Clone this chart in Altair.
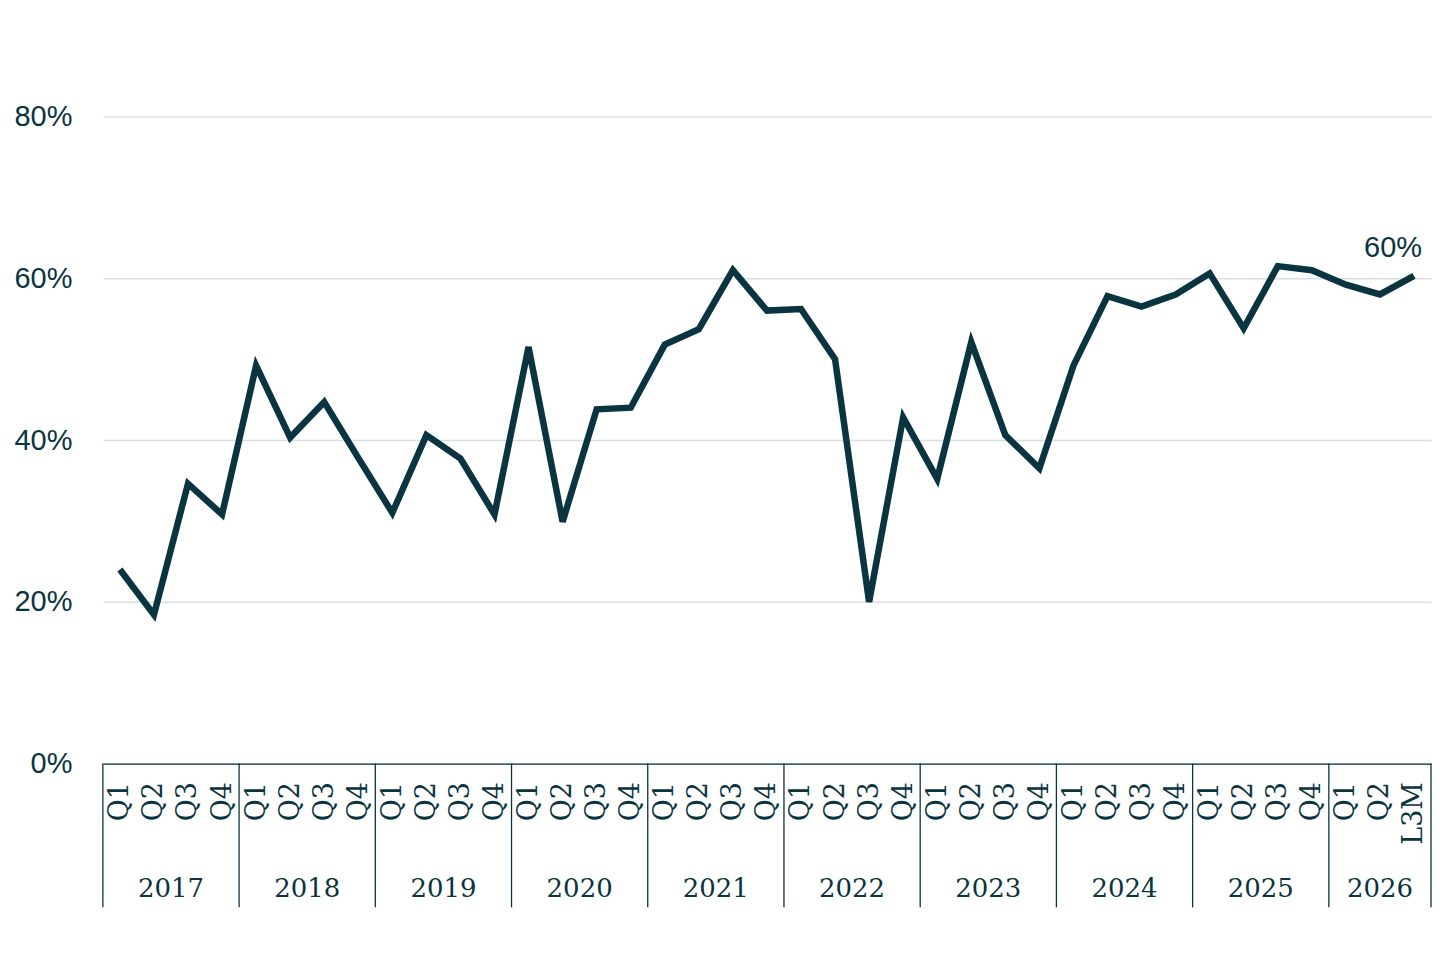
import altair as alt
import pandas as pd

# ---- data ----
quarters = ["Q1", "Q2", "Q3", "Q4"] * 9 + ["Q1", "Q2", "L3M"]
years = (["2017"] * 4 + ["2018"] * 4 + ["2019"] * 4 + ["2020"] * 4 + ["2021"] * 4 +
         ["2022"] * 4 + ["2023"] * 4 + ["2024"] * 4 + ["2025"] * 4 + ["2026"] * 3)
values = [24.0, 18.4, 34.6, 30.8,
          49.2, 40.3, 44.7, 37.8,
          31.0, 40.6, 37.7, 30.8,
          51.5, 29.9, 43.8, 44.0,
          51.8, 53.7, 61.0, 56.0,
          56.2, 50.0, 20.0, 42.8,
          35.2, 52.1, 40.6, 36.5,
          49.2, 57.8, 56.5, 58.0,
          60.6, 53.8, 61.5, 61.0,
          59.2, 58.0, 60.3]
y_ticks = [0, 0.2, 0.4, 0.6, 0.8]

INK = "#0a3440"
GRID = "#d8dfe0"
SERIF = "DejaVu Serif"
SANS = "Liberation Sans"

W, H = 1330, 729

df = pd.DataFrame({
    "idx": list(range(len(values))),
    "quarter": quarters,
    "year": years,
    "value": [v / 100 for v in values],
})

yr = df.groupby("year", as_index=False).agg(lo=("idx", "min"), hi=("idx", "max"))
yr["mid"] = (yr["lo"] + yr["hi"]) / 2
bounds = pd.DataFrame({"b": sorted(set((yr["lo"] - 0.5).tolist() + (yr["hi"] + 0.5).tolist()))})

label_expr = "[" + ",".join(f"'{q}'" for q in quarters) + "][datum.value]"

xscale = alt.Scale(domain=[-0.5, len(values) - 0.5], nice=False, zero=False)
yscale = alt.Scale(domain=[0, 0.9], nice=False)

xaxis = alt.Axis(values=list(range(len(values))), labelExpr=label_expr,
                 labelAngle=270, grid=False, ticks=False, domain=True,
                 domainColor=INK, domainWidth=1.3, labelFont=SERIF,
                 labelFontSize=27, labelColor=INK, labelPadding=18,
                 labelOverlap=False, labelFlush=False, labelBound=False, title=None)
yaxis = alt.Axis(values=y_ticks, format=".0%", grid=True, gridColor=GRID,
                 gridWidth=1.5, domain=False, ticks=False, labelFont=SANS,
                 labelFontSize=29, labelColor=INK, labelPadding=31, title=None)

line = alt.Chart(df).mark_line(color=INK, strokeWidth=6.5).encode(
    x=alt.X("idx:Q", scale=xscale, axis=xaxis),
    y=alt.Y("value:Q", scale=yscale, axis=yaxis),
)

end_label = alt.Chart(df).transform_filter(
    alt.datum.idx == len(values) - 1
).mark_text(font=SANS, fontSize=29, color=INK, align="right", baseline="middle",
            dx=8, dy=-28).encode(
    x=alt.X("idx:Q", scale=xscale, axis=xaxis),
    y=alt.Y("value:Q", scale=yscale, axis=yaxis),
    text=alt.Text("value:Q", format=".0%"),
)

year_labels = alt.Chart(yr).mark_text(font=SERIF, fontSize=26, color=INK,
                                      baseline="middle", align="center").encode(
    x=alt.X("mid:Q", scale=xscale, axis=xaxis),
    y=alt.value(H + 126),
    text="year:N",
)

separators = alt.Chart(bounds).mark_rule(color=INK, strokeWidth=1.3).encode(
    x=alt.X("b:Q", scale=xscale, axis=xaxis),
    y=alt.value(H),
    y2=alt.value(H + 144),
)

chart = alt.layer(line, end_label, separators, year_labels).properties(
    width=W, height=H, background="white",
    padding={"left": 5, "top": 27, "right": 0, "bottom": 5},
).configure_view(strokeWidth=0, stroke="transparent").configure_axisX(labelOverlap=False)

chart.save("out.html", embed_options={"renderer": "svg", "actions": False})
